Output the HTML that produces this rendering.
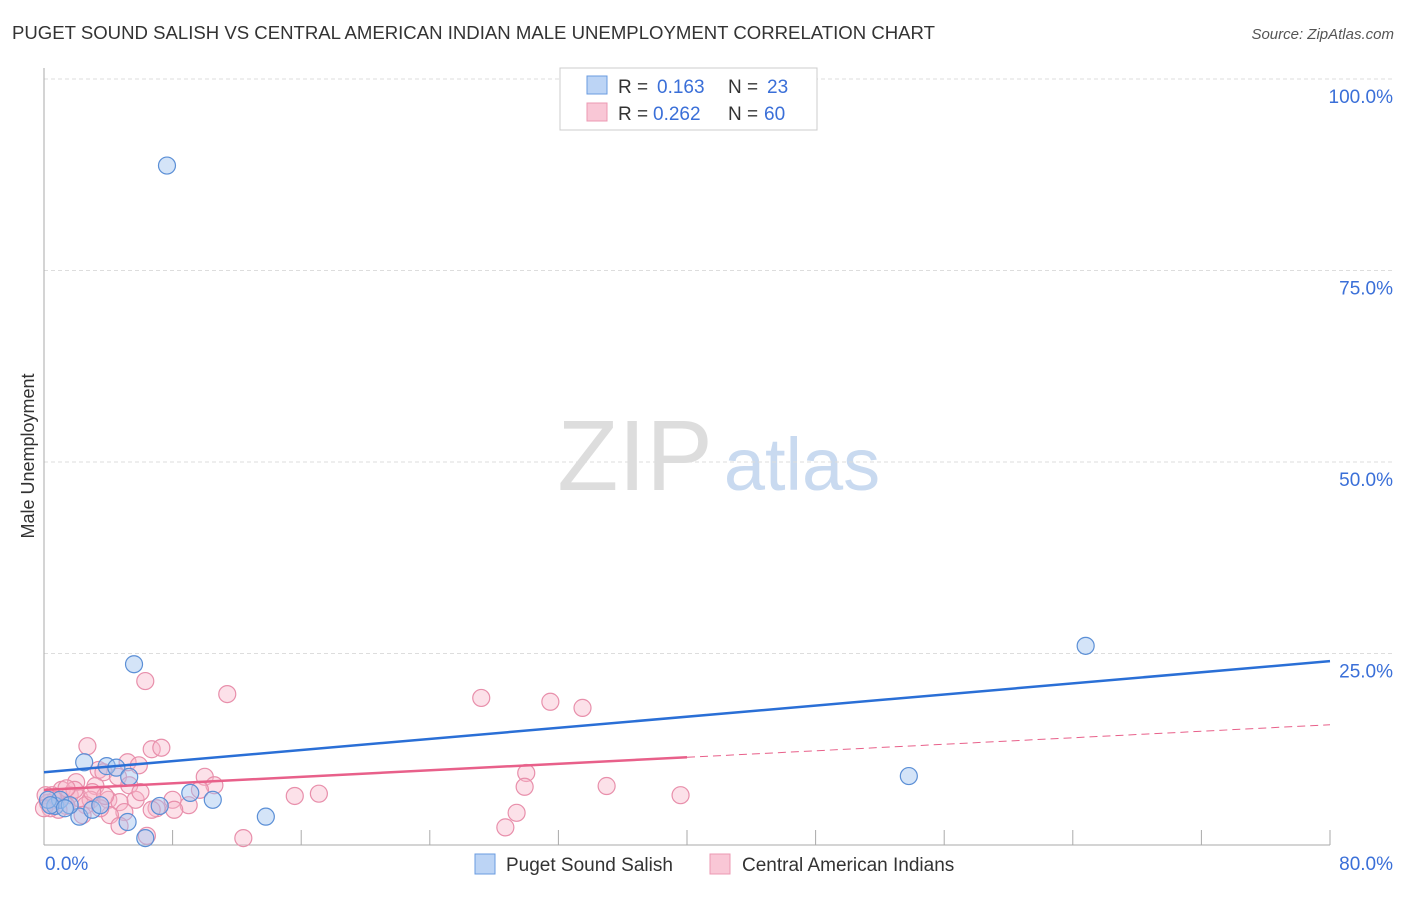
<!DOCTYPE html>
<html><head><meta charset="utf-8"><style>
body{margin:0;background:#fff;font-family:"Liberation Sans",sans-serif}
svg text{font-family:"Liberation Sans",sans-serif}
</style></head><body>
<svg id="chart" width="1406" height="892" xmlns="http://www.w3.org/2000/svg">
<text x="12" y="39" font-size="18" fill="#333" textLength="923" lengthAdjust="spacingAndGlyphs">PUGET SOUND SALISH VS CENTRAL AMERICAN INDIAN MALE UNEMPLOYMENT CORRELATION CHART</text>
<text x="1394" y="39" font-size="15" fill="#555" font-style="italic" text-anchor="end">Source: ZipAtlas.com</text>
<text x="34" y="456" font-size="18" fill="#333" text-anchor="middle" transform="rotate(-90 34 456)">Male Unemployment</text>
<g><text x="635" y="490" font-size="100" font-family="Liberation Serif" fill="#ddd" text-anchor="middle">ZIP</text><text x="802" y="490" font-size="74" fill="#c9daf0" text-anchor="middle">atlas</text></g>
<g id="grid"></g><g id="axes"></g><g id="marks"></g><g id="lines"></g>
<g>
<rect x="560" y="68" width="257" height="62" fill="#fff" stroke="#ccc"/>
<rect x="587" y="76" width="20" height="18" fill="#bcd4f5" stroke="#6a9be0"/>
<rect x="587" y="103" width="20" height="18" fill="#f9c7d6" stroke="#ec98b3"/>
<text x="618" y="93" font-size="19" fill="#333">R =</text><text x="657" y="93" font-size="19" fill="#3a6fd8">0.163</text>
<text x="728" y="93" font-size="19" fill="#333">N =</text><text x="767" y="93" font-size="19" fill="#3a6fd8">23</text>
<text x="618" y="120" font-size="19" fill="#333">R =</text><text x="653" y="120" font-size="19" fill="#3a6fd8">0.262</text>
<text x="728" y="120" font-size="19" fill="#333">N =</text><text x="764" y="120" font-size="19" fill="#3a6fd8">60</text>
</g>
<g>
<rect x="475" y="854" width="20" height="20" fill="#bcd4f5" stroke="#6a9be0"/>
<text x="506" y="871" font-size="19" fill="#333">Puget Sound Salish</text>
<rect x="710" y="854" width="20" height="20" fill="#f9c7d6" stroke="#ec98b3"/>
<text x="742" y="871" font-size="19" fill="#333">Central American Indians</text>
</g>
</svg>
<script>
const xTicks=[0,80];
const yTicks=[25,50,75,100];
const blueX=[7.65,5.6,64.8,53.8,2.5,3.9,4.5,5.3,10.5,13.8,5.2,6.3,7.2,9.1,2.2,3.0,0.7,1.0,0.25,1.6,0.4,1.3,3.5];
const blueY=[88.7,23.6,26.0,9.0,10.8,10.3,10.1,8.9,5.9,3.7,3.0,0.9,5.1,6.8,3.7,4.6,5.1,5.9,5.9,5.2,5.2,4.8,5.2];
const pinkX=[11.4,6.3,27.2,31.5,33.5,2.7,6.7,7.3,3.4,5.2,5.9,3.7,4.6,5.3,3.2,2.0,1.1,0.5,0.7,1.6,2.2,2.9,4.0,4.7,5.7,10.0,10.6,9.7,8.0,9.0,7.0,8.1,5.0,4.1,4.7,3.5,2.6,1.4,0.25,0.9,1.9,30.0,29.9,35.0,39.6,15.6,17.1,29.4,28.7,12.4,6.4,0.4,0.1,2.4,6.0,6.7,3.8,1.4,3.0,0.0];
const pinkY=[19.7,21.4,19.2,18.7,17.9,12.9,12.5,12.7,9.8,10.8,10.4,9.5,8.9,7.8,7.7,8.2,7.2,6.5,5.9,6.5,6.1,5.9,5.9,5.6,5.9,8.9,7.8,7.2,5.9,5.2,4.8,4.6,4.3,3.9,2.5,4.8,5.2,5.1,5.5,4.6,7.2,9.4,7.6,7.7,6.5,6.4,6.7,4.2,2.3,0.9,1.2,4.8,6.5,3.9,6.9,4.6,6.4,7.4,6.9,4.8];
const blueTrend=[9.5,24.0];
const pinkTrend=[7.2,15.7];
const X=v=>44+v/80*1286;
const Y=v=>845-v/100*766;
const NS="http://www.w3.org/2000/svg";
function mk(t,a,p){const e=document.createElementNS(NS,t);for(const k in a)e.setAttribute(k,a[k]);p.appendChild(e);return e;}
const grid=document.getElementById('grid'),axes=document.getElementById('axes'),marks=document.getElementById('marks'),lines=document.getElementById('lines');
yTicks.forEach(t=>{
 const l=mk('line',{x1:44,x2:1394,y1:Y(t),y2:Y(t),stroke:'#ddd','stroke-dasharray':'4,3'},grid);
 
 
 const tx=mk('text',{x:1393,y:Y(t)+24,'font-size':19,fill:'#3a6fd8','text-anchor':'end'},axes);
 tx.textContent=t.toFixed(1)+'%';
 
 
});
mk('line',{x1:44,x2:44,y1:68,y2:845,stroke:'#aaa'},axes);
mk('line',{x1:44,x2:1330,y1:845,y2:845,stroke:'#aaa'},axes);
for(let i=1;i<=10;i++){mk('line',{x1:X(i*8),x2:X(i*8),y1:830,y2:845,stroke:'#aaa'},axes);}
xTicks.forEach((t,i)=>{
 const tx=mk('text',{x:i?1393:45,y:870,'font-size':19,fill:'#3a6fd8','text-anchor':i?'end':'start'},axes);
 tx.textContent=t.toFixed(1)+'%';
 
 
});
pinkX.forEach((x,i)=>{
 const c=mk('circle',{cx:X(x),cy:Y(pinkY[i]),r:8.5,fill:'rgba(248,180,200,0.4)',stroke:'#e88fab','stroke-width':1.2},marks);
 
 
});
blueX.forEach((x,i)=>{
 const c=mk('circle',{cx:X(x),cy:Y(blueY[i]),r:8.5,fill:'rgba(160,196,240,0.45)',stroke:'#5b8fd6','stroke-width':1.2},marks);
 
 
});
const bl=mk('line',{x1:X(0),y1:Y(blueTrend[0]),x2:X(80),y2:Y(blueTrend[1]),stroke:'#2a6fd6','stroke-width':2.5},lines);


const pm=pinkTrend[0]+(pinkTrend[1]-pinkTrend[0])/2;
const pl=mk('line',{x1:X(0),y1:Y(pinkTrend[0]),x2:X(40),y2:Y(pm),stroke:'#e8608a','stroke-width':2.5},lines);


const pd=mk('line',{x1:X(40),y1:Y(pm),x2:X(80),y2:Y(pinkTrend[1]),stroke:'#e8608a','stroke-width':1,'stroke-dasharray':'8,5'},lines);


</script>
</body></html>
